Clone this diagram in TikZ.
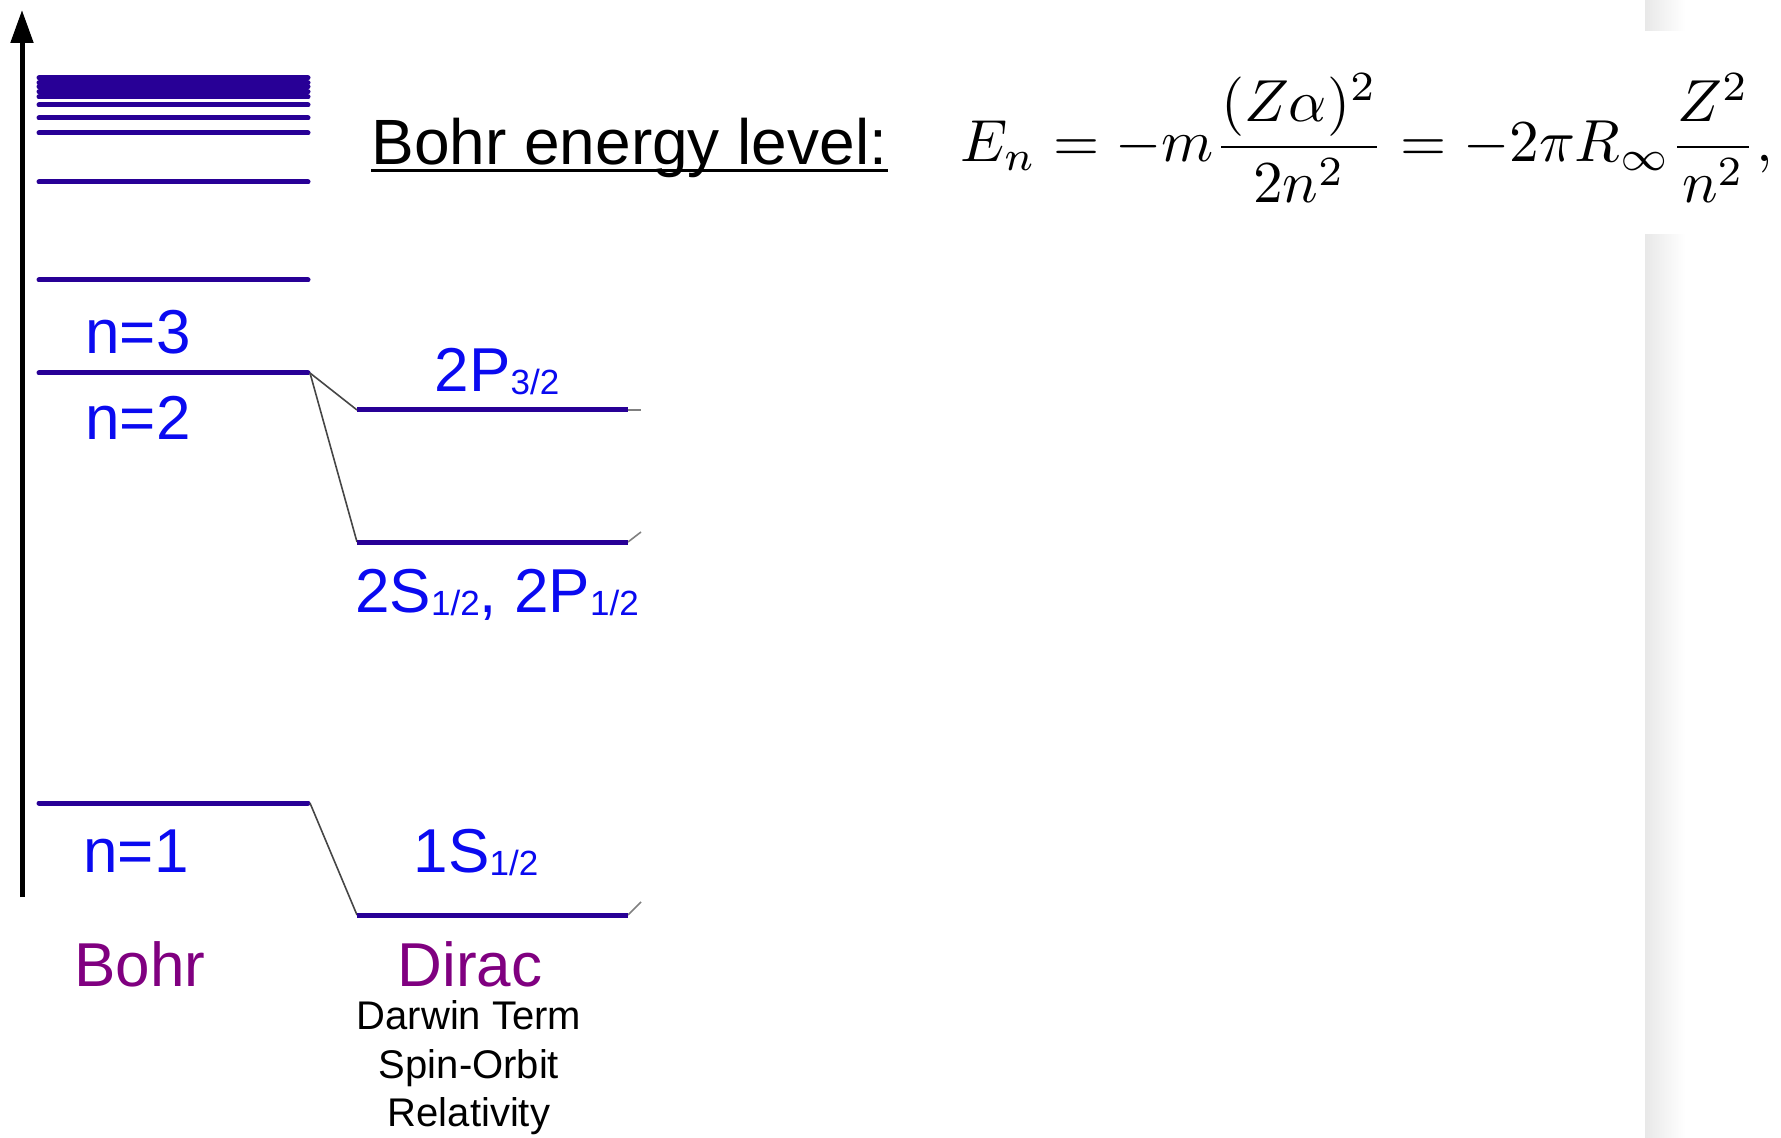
\documentclass[tikz,border=0pt]{standalone}
\usepackage{fontspec}
\setmainfont{Liberation Sans}
\usepackage{amsmath}
\usepackage{graphicx}
\usetikzlibrary{arrows.meta}
\definecolor{lvl}{RGB}{40,0,150}
\definecolor{lblblue}{RGB}{10,10,240}
\definecolor{thpurple}{RGB}{128,0,128}
\definecolor{conngray}{RGB}{70,70,70}
\newcommand\ssub[1]{\raisebox{-1.5pt}{\fontsize{17.5}{17.5}\selectfont #1}}
\tikzset{
  level/.style={line width=2.5pt, draw=lvl, line cap=round},
  conn/.style={line width=0.8pt, draw=conngray},
  stub/.style={line width=0.8pt, draw=gray},
  lbl/.style={anchor=base, inner sep=0pt, text=lblblue, font=\fontsize{31}{31}\selectfont},
  theory/.style={anchor=base, inner sep=0pt, text=thpurple, font=\fontsize{31}{31}\selectfont},
  note/.style={anchor=base, inner sep=0pt, font=\fontsize{20}{20}\selectfont},
}
\begin{document}
\begin{tikzpicture}[x=0.5pt,y=-0.5pt]
\useasboundingbox (0,0) rectangle (1781,1138);
% faint gray strip at right
\shade[left color=black!9, right color=white] (1645,0) rectangle (1685,31);
\shade[left color=black!9, right color=white] (1645,235) rectangle (1685,1138);

% energy axis
\coordinate (axb) at (22,897);
\coordinate (axt) at (22,10);
\draw[line width=2.5pt, -{Triangle[length=16.5pt,width=11pt]}] (axb) -- (axt);

% Bohr levels
\foreach \y in {78,83,87,92,97,105,118,133,182,280,373,803}
  \draw[level] (39,\y) -- (308,\y);
\coordinate (b2r) at (310,373);
\coordinate (b1r) at (310,803);

% Dirac levels
\coordinate (d2pl) at (357,410); \coordinate (d2pr) at (628,410);
\coordinate (d2sl) at (357,542); \coordinate (d2sr) at (628,542);
\coordinate (d1sl) at (357,915); \coordinate (d1sr) at (628,915);
\coordinate (s1) at (641,410);
\coordinate (s2) at (641,532);
\coordinate (s3) at (641,902);

\draw[conn] (b2r) -- (d2pl);
\draw[conn] (b2r) -- (d2sl);
\draw[conn] (b1r) -- (d1sl);
\draw[stub] (d2pr) -- (s1);
\draw[stub] (d2sr) -- (s2);
\draw[stub] (d1sr) -- (s3);
\draw[level, line cap=butt] (d2pl) -- (d2pr);
\draw[level, line cap=butt] (d2sl) -- (d2sr);
\draw[level, line cap=butt] (d1sl) -- (d1sr);

% labels
\node[lbl] (n3) at (138,354) {n=3};
\node[lbl] (n2) at (138,440) {n=2};
\node[lbl] (n1) at (136,872) {n=1};
\node[lbl] (p32) at (497,392) {2P\ssub{3/2}};
\node[lbl] (s12) at (497,612) {2S\ssub{1/2}, 2P\ssub{1/2}};
\node[lbl] (s1s) at (476,872) {1S\ssub{1/2}};

\node[theory] (bohr) at (140,986) {Bohr};
\node[theory] (dirac) at (470,986) {Dirac};
\node[note] (darwin) at (469,1029) {Darwin Term};
\node[note] (spin) at (469,1078) {Spin-Orbit};
\node[note] (rel) at (469,1126) {Relativity};

% title and formula
\node[anchor=base west, inner sep=0pt, font=\fontsize{32}{32}\selectfont] (title) at (371,165) {Bohr energy level:};
\draw[line width=1.5pt] ([yshift=-2.6pt]title.base west) -- ([yshift=-2.6pt]title.base east);
\node[anchor=base west, inner sep=0pt] (eq) at (960,162)
  {\resizebox{406pt}{!}{$\displaystyle E_n=-m\frac{(Z\alpha)^2}{2n^2}=-2\pi R_\infty\frac{Z^2}{n^2},$}};
\end{tikzpicture}
\end{document}
